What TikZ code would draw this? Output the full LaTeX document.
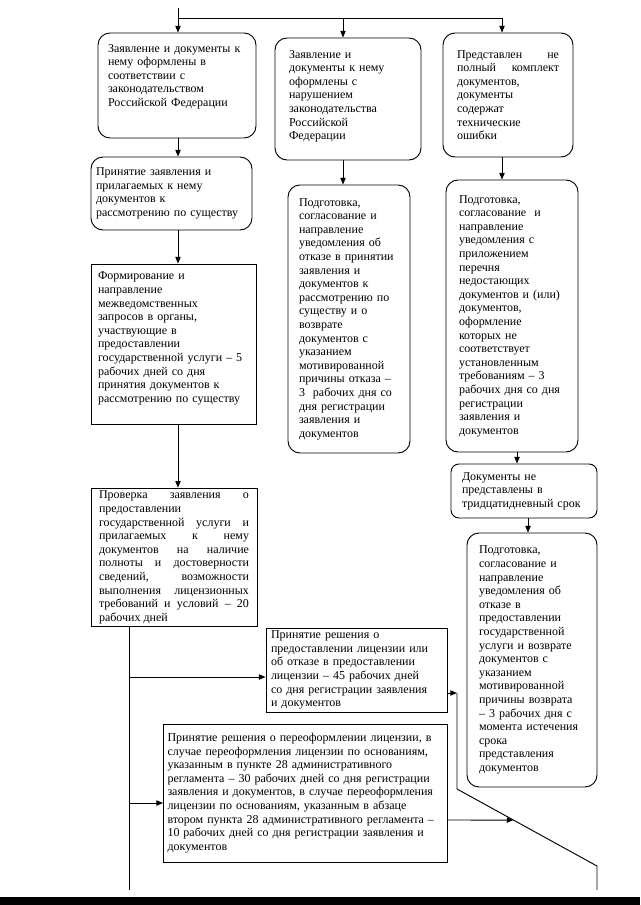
\documentclass[tikz,border=0pt]{standalone}
\usepackage{fontspec}
\setmainfont{Liberation Serif}
\usetikzlibrary{arrows.meta}
\hyphenpenalty=10000
\exhyphenpenalty=10000

\begin{document}
\begin{tikzpicture}[x=0.75pt,y=-0.75pt,line width=0.7pt,
  every node/.style={font=\fontsize{9}{10.2}\selectfont},
  box/.style={draw,inner ysep=2pt,align=left},
  rbox/.style={box,rounded corners=9pt},
  arr/.style={-{Triangle[length=5pt,width=4pt]}}]
\useasboundingbox (0,0) rectangle (640,905);

\node[rbox,text width=103.5pt,inner xsep=7.5pt,minimum height=78.75pt] (ok) at (177,85.5)
  {Заявление и документы к\\ нему оформлены в\\ соответствии с\\ законодательством\\ Российской Федерации\\[5pt]\mbox{}};
\node[rbox,text width=88.5pt,inner xsep=10.5pt,minimum height=91.5pt] (bad) at (348,99)
  {Заявление и\\ документы к нему\\ оформлены с\\ нарушением\\ законодательства\\ Российской\\ Федерации\\[-4pt]\mbox{}};
\node[rbox,align=justify,text width=76.5pt,inner xsep=10.5pt,minimum height=93pt] (part) at (508,95)
  {Представлен не\linebreak полный комплект\linebreak документов,\\ документы\\ содержат\\ технические\\ ошибки};

\node[rbox,text width=113.25pt,inner xsep=3.75pt,minimum height=54.75pt] (accept) at (171.5,193.5)
  {Принятие заявления и\\ прилагаемых к нему\\ документов к\\ рассмотрению по существу};
\node[box,text width=113.25pt,inner xsep=5.25pt,minimum height=120pt] (req) at (173.5,344)
  {Формирование и\\ направление\\ межведомственных\\ запросов в органы,\\ участвующие в\\ предоставлении\\ государственной услуги – 5\\ рабочих дней со дня\\ принятия документов к\\ рассмотрению по существу\\ \mbox{}};
\node[box,align=justify,text width=112.5pt,inner xsep=6pt,minimum height=104pt] (check) at (174,557.5)
  {Проверка заявления о\linebreak предоставлении\\ государственной услуги и\linebreak прилагаемых к нему\linebreak документов на наличие\linebreak полноты и достоверности\linebreak сведений, возможности\linebreak выполнения лицензионных\linebreak требований и условий – 20\linebreak рабочих дней};
\node[box,text width=128.25pt,inner xsep=3.75pt,minimum height=63pt] (decide) at (356.5,670)
  {Принятие решения о\\ предоставлении лицензии или\\ об отказе в предоставлении\\ лицензии – 45 рабочих дней\\ со дня регистрации заявления\\ и документов};
\node[box,text width=207pt,inner xsep=3pt,minimum height=103.5pt] (reissue) at (305.5,793)
  {Принятие решения о переоформлении лицензии, в\\ случае переоформления лицензии по основаниям,\\ указанным в пункте 28 административного\\ регламента – 30 рабочих дней со дня регистрации\\ заявления и документов, в случае переоформления\\ лицензии по основаниям, указанным в абзаце\\ втором пункта 28 административного регламента –\\ 10 рабочих дней со дня регистрации заявления и\\ документов};

\node[rbox,text width=75pt,inner xsep=8.25pt,minimum height=201pt] (refuse) at (349,319)
  {Подготовка,\\ согласование и\\ направление\\ уведомления об\\ отказе в принятии\\ заявления и\\ документов к\\ рассмотрению по\\ существу и о\\ возврате\\ документов с\\ указанием\\ мотивированной\\ причины отказа –\\ 3~ рабочих дня со\\ дня регистрации\\ заявления и\\ документов};
\node[rbox,text width=79.5pt,inner xsep=9.75pt,minimum height=204pt] (notice) at (512,316)
  {Подготовка,\\ согласование~ и\\ направление\\ уведомления с\\ приложением\\ перечня\\ недостающих\\ документов и (или)\\ документов,\\ оформление\\ которых не\\ соответствует\\ установленным\\ требованиям – 3\\ рабочих дня со дня\\ регистрации\\ заявления и\\ документов};
\node[box,rounded corners=6pt,text width=93pt,inner xsep=8.25pt,minimum height=40.5pt] (late) at (524,491)
  {Документы не\\ представлены в\\ тридцатидневный срок};
\node[rbox,text width=79.5pt,inner xsep=9pt,minimum height=190.5pt] (deny) at (532,660)
  {Подготовка,\\ согласование и\\ направление\\ уведомления об\\ отказе в\\ предоставлении\\ государственной\\ услуги и возврате\\ документов с\\ указанием\\ мотивированной\\ причины возврата\\ – 3 рабочих дня с\\ момента истечения\\ срока\\ представления\\ документов};

\coordinate (top) at (178,8);
\coordinate (jn) at (178,18);
\coordinate (j2) at (343,18);
\coordinate (j3) at (502,18);
\draw (top) -- (jn) -- (j3);
\draw[arr] (jn) -- (jn |- ok.north);
\draw[arr] (j2) -- (j2 |- bad.north);
\draw[arr] (j3) -- (j3 |- part.north);
\draw[arr] (jn |- ok.south) -- (jn |- accept.north);
\draw[arr] (jn |- accept.south) -- (jn |- req.north);
\draw[arr] (jn |- req.south) -- (jn |- check.north);
\draw[arr] (j2 |- bad.south) -- (j2 |- refuse.north);
\draw[arr] (j3 |- part.south) -- (j3 |- notice.north);
\draw[arr] ([xshift=3.75pt]notice.south) -- ([xshift=3.75pt]notice.south |- late.north);
\draw[arr] ([xshift=3pt]late.south) -- ([xshift=3pt]late.south |- deny.north);

\coordinate (lb) at (129,890);
\coordinate (m7) at (129,677);
\coordinate (m11) at (129,803);
\draw (lb |- check.south) -- (lb);
\draw[arr] (m7) -- (m7 -| decide.west);
\draw[arr] (m11) -- (m11 -| reissue.west);

\coordinate (r1) at (457,693);
\coordinate (r2) at (457,789);
\coordinate (r3) at (597,866);
\coordinate (r4) at (597,890);
\coordinate (o1) at (447,820);
\coordinate (o2) at (640,820);
\draw[arr] (r1 -| decide.east) -- (r1);
\draw (r1) -- (r2) -- (r3) -- (r4);
\draw[arr] (o1 -| reissue.east) -- (intersection of o1--o2 and r2--r3);

\fill (0,897) rectangle (640,905);
\end{tikzpicture}
\end{document}
